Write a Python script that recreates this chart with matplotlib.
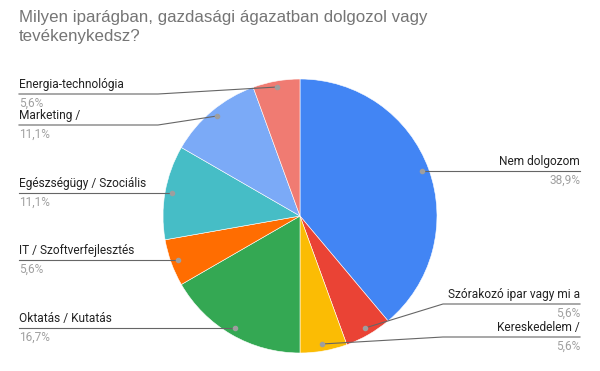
import matplotlib.pyplot as plt

# Data
categories = ['Nem dolgozom', 'Szórakozó ipar vagy mi a', 'Kereskedelem /',
              'Oktatás / Kutatás', 'IT / Szoftverfejlesztés',
              'Egészségügy / Szociális', 'Marketing /', 'Energia-technológia']
counts = [7, 1, 1, 3, 1, 2, 2, 1]
pct_labels = ['38,9%', '5,6%', '5,6%', '16,7%', '5,6%', '11,1%', '11,1%', '5,6%']
colors = ['#4285F4', '#EA4335', '#FBBC04', '#34A853', '#FF6D01',
          '#46BDC6', '#7BAAF7', '#F07B72']

plt.rcParams['font.family'] = ['Roboto', 'DejaVu Sans']

W, H = 600, 371
fig = plt.figure(figsize=(6, 3.71), dpi=100)
ax = fig.add_axes([0, 0, 1, 1])

def Y(y):
    return H - y

cx, cy, r = 300, 216, 137
ax.pie(counts, colors=colors, startangle=90, counterclock=False,
       center=(cx, Y(cy)), radius=r, frame=True,
       wedgeprops=dict(edgecolor='white', linewidth=0.4))
ax.set_xlim(0, W)
ax.set_ylim(0, H)
ax.axis('off')

# label leader lines: (dot position, elbow x, line y, text x, alignment)
leaders = [
    ((422, 171), None, 171, 580, 'right'),
    ((365, 328), 443, 304, 580, 'right'),
    ((322, 344), 443, 337, 580, 'right'),
    ((235, 328), None, 328, 19, 'left'),
    ((178, 260), None, 260, 19, 'left'),
    ((172, 193), None, 193, 19, 'left'),
    ((217, 116), 158, 125, 19, 'left'),
    ((277, 87), 158, 94, 19, 'left'),
]

for cat, pct, (dot, elbow, ly, tx, ha) in zip(categories, pct_labels, leaders):
    dx, dy = dot
    if elbow is None:
        xs, ys = [dx, tx], [ly, ly]
    else:
        xs, ys = [dx, elbow, tx], [dy, ly, ly]
    ax.plot(xs, [Y(v) for v in ys], color='#666666', lw=0.8, zorder=3)
    ax.plot(dx, Y(dy), 'o', ms=3, color='#9e9e9e', zorder=4)
    ax.text(tx, Y(ly - 3), cat, ha=ha, va='bottom', fontsize=8.6, color='#222222')
    ax.text(tx, Y(ly + 3), pct, ha=ha, va='top', fontsize=8.6, color='#a0a0a0')

fig.text(19 / W, 1 - 41 / H, 'Milyen iparágban, gazdasági ágazatban dolgozol vagy\ntevékenykedsz?',
         ha='left', va='baseline', fontsize=12.2, color='#757575', linespacing=1.3,
         family=['Liberation Sans', 'DejaVu Sans'])

fig.savefig('out.png', dpi=100)
